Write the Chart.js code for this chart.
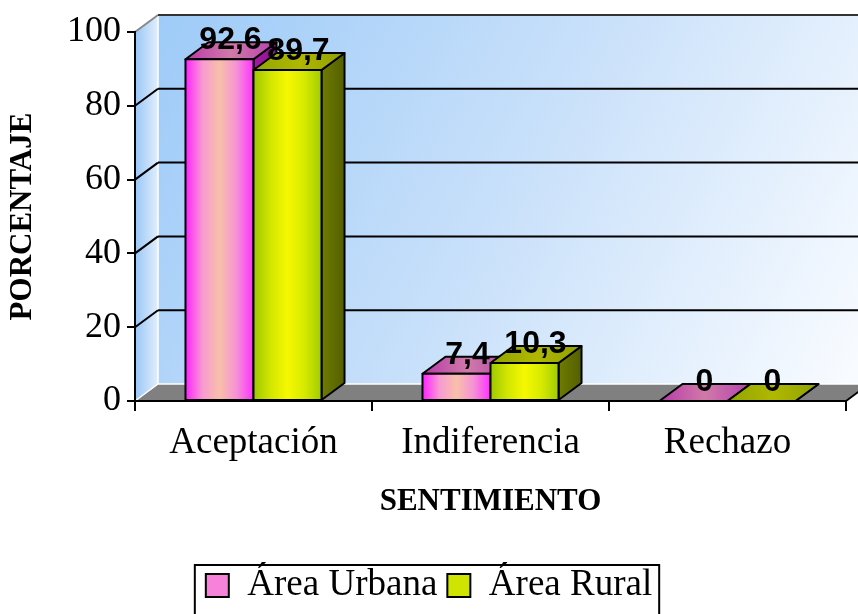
<!DOCTYPE html>
<html>
<head>
<meta charset="utf-8">
<script src="https://cdn.jsdelivr.net/npm/chart.js@4.4.1/dist/chart.umd.min.js"></script>
<style>
  html, body { margin: 0; padding: 0; background: #fff; }
  #wrap { width: 858px; height: 614px; }
</style>
</head>
<body>
<div id="wrap"><canvas id="chart" width="858" height="614"></canvas></div>
<script>
const categories = ['Aceptación', 'Indiferencia', 'Rechazo'];
const urbana = [92.6, 7.4, 0];
const rural = [89.7, 10.3, 0];
const seriesNames = ['Área Urbana', 'Área Rural'];
const yTicks = [0, 20, 40, 60, 80, 100];

// depth of the fake 3D box
const DX = 23, DY = -17;

const faces = [
    { front: ['#ff22ff', '#f79ad2', '#f8c0aa', '#f592d6', '#ff30ff'], top: ['#b83aa8', '#d07aa8', '#b640b0'], side: ['#a81aa4', '#8c1290'] },
    { front: ['#9cc800', '#d2e600', '#f6f800', '#d6ea00', '#a0cc00'], top: ['#90a400', '#b0b800', '#8ea000'], side: ['#6e7c00', '#545f00'] }
];

function poly(ctx, pts) {
    ctx.beginPath();
    ctx.moveTo(pts[0][0], pts[0][1]);
    for (let i = 1; i < pts.length; i++) ctx.lineTo(pts[i][0], pts[i][1]);
    ctx.closePath();
}

function grad(ctx, x0, y0, x1, y1, cols) {
    const g = ctx.createLinearGradient(x0, y0, x1, y1);
    cols.forEach((c, i) => g.addColorStop(i / (cols.length - 1), c));
    return g;
}

function drawBar(ctx, el, c) {
    const b = el.getProps(['x', 'y', 'base', 'width'], true);
    const l = b.x - b.width / 2, r = b.x + b.width / 2, t = b.y, bt = b.base;
    ctx.lineWidth = 2;
    ctx.strokeStyle = '#000';
    ctx.lineJoin = 'round';
    // side
    poly(ctx, [[r, t], [r + DX, t + DY], [r + DX, bt + DY], [r, bt]]);
    ctx.fillStyle = grad(ctx, r, 0, r + DX, 0, c.side); ctx.fill(); ctx.stroke();
    // top
    poly(ctx, [[l, t], [r, t], [r + DX, t + DY], [l + DX, t + DY]]);
    ctx.fillStyle = grad(ctx, l, 0, r + DX, 0, c.top); ctx.fill(); ctx.stroke();
    // front
    if (bt - t > 0.5) {
        ctx.fillStyle = grad(ctx, l, 0, r, 0, c.front);
        ctx.fillRect(l, t, r - l, bt - t);
    }
    ctx.strokeRect(l, t, r - l, bt - t);
}

const box3d = {
    id: 'box3d',
    beforeDraw(chart) {
        const { ctx, chartArea: a, scales: { y } } = chart;
        const L = a.left, R = a.right;
        const T = y.getPixelForValue(100), B = y.getPixelForValue(0);
        ctx.save();
        // back wall
        ctx.fillStyle = grad(ctx, L + DX, T + DY, R, B + DY, ['#9ecbf8', '#c8e0fa', '#f8fbff']);
        ctx.fillRect(L + DX, T + DY, R - L, B - T);
        // left wall
        poly(ctx, [[L, T], [L + DX, T + DY], [L + DX, B + DY], [L, B]]);
        ctx.fillStyle = grad(ctx, L, 0, L + DX, 0, ['#98c7f6', '#e2eefc']);
        ctx.fill();
        ctx.strokeStyle = '#ffffff'; ctx.lineWidth = 1.5;
        ctx.beginPath(); ctx.moveTo(L + DX, T + DY); ctx.lineTo(L + DX, B + DY); ctx.stroke();
        // gridlines on the walls
        ctx.lineWidth = 2;
        yTicks.forEach(v => {
            if (v === 0) return;
            const p = y.getPixelForValue(v);
            ctx.strokeStyle = v === 100 ? '#8a8a8a' : '#000';
            ctx.beginPath(); ctx.moveTo(L, p); ctx.lineTo(L + DX, p + DY); ctx.stroke();
            ctx.strokeStyle = v === 100 ? '#333' : '#000';
            ctx.beginPath(); ctx.moveTo(L + DX, p + DY); ctx.lineTo(R + DX, p + DY); ctx.stroke();
        });
        // floor
        poly(ctx, [[L, B], [R, B], [R + DX, B + DY], [L + DX, B + DY]]);
        ctx.fillStyle = '#808080'; ctx.fill();
        ctx.lineWidth = 1.5; ctx.strokeStyle = '#ffffff';
        ctx.beginPath(); ctx.moveTo(L, B); ctx.lineTo(L + DX, B + DY); ctx.lineTo(R + DX, B + DY); ctx.stroke();
        ctx.lineWidth = 2; ctx.strokeStyle = '#000';
        ctx.beginPath(); ctx.moveTo(R, B); ctx.lineTo(R + DX, B + DY); ctx.stroke();
        ctx.restore();
    },
    beforeDatasetsDraw(chart) {
        const ctx = chart.ctx;
        const metas = chart.data.datasets.map((d, i) => chart.getDatasetMeta(i));
        ctx.save();
        for (let j = 0; j < categories.length; j++) {
            metas.forEach((m, i) => drawBar(ctx, m.data[j], faces[i]));
        }
        ctx.font = 'bold 32px "Liberation Sans", Arial, sans-serif';
        ctx.textAlign = 'center';
        ctx.textBaseline = 'middle';
        ctx.fillStyle = '#000';
        metas.forEach((m, i) => {
            m.data.forEach((el, j) => {
                const v = chart.data.datasets[i].data[j];
                ctx.fillText(String(v).replace('.', ','), el.x + 11, el.y - 19);
            });
        });
        ctx.restore();
        return false;
    },
    afterDraw(chart) {
        const { ctx, legend } = chart;
        const hb = legend.legendHitBoxes;
        if (!hb || !hb.length) return;
        const last = hb[hb.length - 1];
        const x0 = hb[0].left - 11, x1 = last.left + last.width + 7;
        ctx.save();
        ctx.strokeStyle = '#000';
        ctx.lineWidth = 2;
        ctx.strokeRect(x0, legend.top + 8, x1 - x0, 80);
        ctx.restore();
    }
};

const serif = '"Liberation Serif", "Times New Roman", serif';

new Chart(document.getElementById('chart'), {
    type: 'bar',
    data: {
        labels: categories,
        datasets: [
            { label: seriesNames[0], data: urbana, backgroundColor: '#f682da', borderColor: '#000', borderWidth: 2 },
            { label: seriesNames[1], data: rural, backgroundColor: '#cfe400', borderColor: '#000', borderWidth: 2 }
        ]
    },
    options: {
        responsive: false,
        animation: false,
        categoryPercentage: 0.574,
        barPercentage: 1.0,
        layout: { padding: { top: 32, right: 12, left: 12, bottom: 0 } },
        plugins: {
            tooltip: { enabled: false },
            legend: {
                position: 'bottom',
                labels: {
                    color: '#000',
                    font: { size: 37, family: serif },
                    boxWidth: 23,
                    boxHeight: 23,
                    padding: 10
                }
            }
        },
        scales: {
            x: {
                grid: { display: true, drawOnChartArea: false, color: '#000', lineWidth: 2, tickLength: 10, offset: true },
                border: { display: true, color: '#000', width: 2 },
                ticks: { color: '#000', font: { size: 37, family: serif }, padding: 10 },
                title: {
                    display: true, text: 'SENTIMIENTO', color: '#000',
                    font: { size: 31, weight: 'bold', family: serif },
                    padding: { top: 0, bottom: 36 }
                },
                afterFit(s) { s.height = 156; }
            },
            y: {
                min: 0,
                max: 100,
                ticks: { stepSize: 20, color: '#000', font: { size: 36, family: serif }, padding: 6 },
                grid: { display: true, drawOnChartArea: false, color: '#000', lineWidth: 2, tickLength: 8 },
                border: { display: true, color: '#000', width: 2 },
                title: {
                    display: true, text: 'PORCENTAJE', color: '#000',
                    font: { size: 31, weight: 'bold', family: serif, lineHeight: 0.7 },
                    padding: { top: 0, bottom: 0 }
                },
                afterFit(s) { s.width = 123; }
            }
        }
    },
    plugins: [box3d]
});
</script>
</body>
</html>
